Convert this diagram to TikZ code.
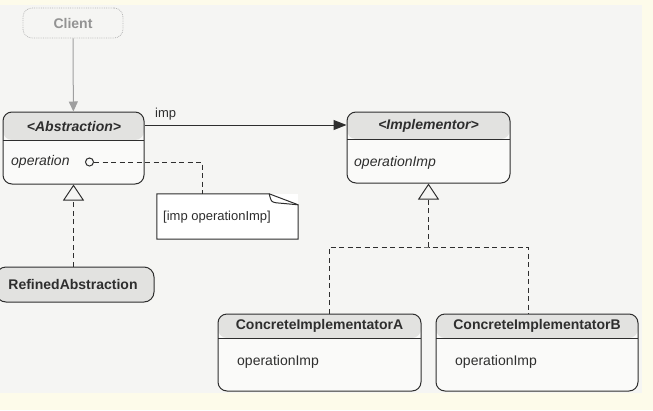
\documentclass[tikz,border=0pt]{standalone}
\usepackage{fontspec}
\setmainfont{Liberation Sans}
\usetikzlibrary{arrows.meta,calc}
\definecolor{cream}{HTML}{FDFBEA}
\definecolor{paper}{HTML}{F5F5F3}
\definecolor{headfill}{HTML}{E2E2E0}
\definecolor{bodyfill}{HTML}{FAFAF9}
\definecolor{ink}{HTML}{2E2E2E}
\tikzset{
  txt/.style={font=\fontsize{14}{16}\selectfont, text=ink, inner sep=0pt},
  cls/.style={draw=ink, line width=1pt, rounded corners=9pt, fill=bodyfill, inner sep=0pt},
  hdr/.style={path picture={
      \fill[headfill] (path picture bounding box.north west) rectangle ([yshift=-#1]path picture bounding box.north east);
      \draw[ink, line width=1pt] ([yshift=-#1]path picture bounding box.north west) -- ([yshift=-#1]path picture bounding box.north east);}},
  conn/.style={draw=ink, line width=1pt},
  dsh/.style={draw=ink, line width=1pt, dash pattern=on 5pt off 3.5pt},
  realize/.style={-{Triangle[open, length=16pt, width=21pt, line width=1pt]}}
}
\begin{document}
\begin{tikzpicture}[x=1pt, y=-1pt]
\useasboundingbox (0,0) rectangle (653,410);
\fill[cream] (0,0) rectangle (653,410);
\fill[paper] (0,5) rectangle (642,393);

% Client
\node[draw=gray!55, densely dotted, line width=0.8pt, rounded corners=9pt, fill=paper,
      minimum width=100pt, minimum height=30pt] (client) at (73,23) {};
\node[txt, text=gray!85, font=\fontsize{14}{16}\selectfont\bfseries] (clientt) at (client) {Client};

% Abstraction
\node[cls, hdr=28pt, minimum width=141pt, minimum height=72pt] (abs) at (73.5,148) {};
\node[txt, font=\fontsize{14}{16}\selectfont\bfseries\itshape] (abst) at (74,126.5) {<Abstraction>};
\node[txt, font=\fontsize{14}{16}\selectfont\itshape, anchor=west] (absop) at (11,162) {operation};
\node[draw=ink, line width=1pt, circle, inner sep=0pt, minimum size=8pt, fill=bodyfill] (dot) at (89.5,162) {};

% Implementor
\node[cls, hdr=27pt, minimum width=163pt, minimum height=71pt] (impl) at (428.5,147.5) {};
\node[txt, font=\fontsize{14}{16}\selectfont\bfseries\itshape] (implt) at (428.5,126) {<Implementor>};
\node[txt, font=\fontsize{14}{16}\selectfont\itshape, anchor=west] (implop) at (354,163) {operationImp};

% Note
\node[fill=white, inner sep=0pt, minimum width=141pt, minimum height=45pt] (note) at (227.5,216.5) {};
\draw[conn] ([xshift=41pt]note.north west) -- (note.north west) -- (note.south west) -- (note.south east) -- ([yshift=-11pt]note.north east) -- ([xshift=-29pt]note.north east) -- cycle;
\draw[conn] ([xshift=-29pt]note.north east) .. controls ([xshift=-27pt,yshift=-8pt]note.north east) .. ([xshift=-22pt,yshift=-9pt]note.north east) -- ([yshift=-11pt]note.north east);
\node[txt, anchor=west, font=\fontsize{13}{15}\selectfont] (notet) at (163,217) {[imp operationImp]};

% RefinedAbstraction
\node[draw=ink, line width=1pt, rounded corners=10pt, fill=headfill, minimum width=158pt, minimum height=35pt] (ref) at (75,284.5) {};
\node[txt, font=\fontsize{14}{16}\selectfont\bfseries] (reft) at (73,284.5) {RefinedAbstraction};

% Concrete implementors
\node[cls, hdr=24pt, minimum width=203pt, minimum height=77pt] (ca) at (319.5,352.5) {};
\node[txt, font=\fontsize{14}{16}\selectfont\bfseries] (cat) at (319.5,326) {ConcreteImplementatorA};
\node[txt, anchor=west] (caop) at (237,362) {operationImp};
\node[cls, hdr=24pt, minimum width=202pt, minimum height=77pt] (cb) at (537,352.5) {};
\node[txt, font=\fontsize{14}{16}\selectfont\bfseries] (cbt) at (537,326) {ConcreteImplementatorB};
\node[txt, anchor=west] (cbop) at (455,362) {operationImp};

% Connectors
\draw[draw=gray!75, line width=1pt, -{Triangle[length=10pt, width=9pt]}] (client) -- (abs);
\draw[conn, -{Triangle[length=13pt, width=10pt]}] (abs.east |- 0,125) coordinate (impa) -- (impl.west |- impa) coordinate (impb);
\node[txt, anchor=base west, font=\fontsize{13}{15}\selectfont] (impl-lbl) at (155,117) {imp};
\draw[dsh] (dot.east) -- (202,162) coordinate (nk) -- (nk |- note.north);
\draw[dsh, realize] (abs.south |- ref.north) -- (abs.south);
\coordinate (jn) at (428.5,247);
\draw[dsh] ([xshift=9.5pt]ca.north) |- (jn) -| ([xshift=-9pt]cb.north);
\draw[dsh, realize] (jn) -- (impl.south);
\end{tikzpicture}
\end{document}
